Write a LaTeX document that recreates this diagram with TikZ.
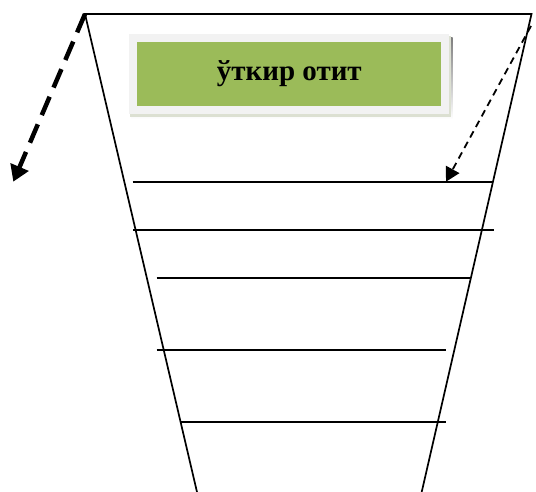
\documentclass[tikz,border=0pt]{standalone}
\usepackage{fontspec}
\setmainfont{Liberation Serif}
\usepackage{tikz}
\usetikzlibrary{positioning,calc,arrows.meta,backgrounds}
\usepackage{xcolor}
\definecolor{olive}{HTML}{9BBB59}
\definecolor{frame}{HTML}{F2F2F2}
\definecolor{shade}{HTML}{A9B294}
\definecolor{shadelight}{HTML}{DCE0D2}

\begin{document}
\begin{tikzpicture}[x=1pt,y=-1pt]
    \useasboundingbox (0,0) rectangle (536,492);
    \tikzset{
      rung/.style={line width=1.8pt},
      side/.style={line width=1.7pt},
      title/.style={fill=olive, draw=frame, line width=8pt,
        minimum width=312pt, minimum height=72pt,
        font=\fontsize{29}{34}\selectfont\bfseries}
    }

    % Corners of the funnel
    \coordinate (tl) at (85, 14);
    \coordinate (tr) at (531.5, 14);
    \coordinate (bl) at (197, 492);
    \coordinate (br) at (421.7, 492);

    % Funnel
    \draw[side] (bl) -- (tl) -- (tr) -- (br);

    % Rungs
    \draw[rung] (132.7, 182.3) -- (492.7, 182.3);
    \draw[rung] (133, 230) -- (494.3, 230);
    \draw[rung] (156.7, 277.7) -- (470, 277.7);
    \draw[rung] (156.7, 350) -- (446, 350);
    \draw[rung] (181, 421.7) -- (446, 421.7);

    % Title with its shadow
    \node[title] (otit) at (289.3, 74) {ўткир отит};
    \begin{scope}[on background layer]
      \fill[shade] ($(otit.north west)+(2.4,4)$)
        rectangle ($(otit.south east)+(3.4,5.3)$);
      \fill[shadelight] ($(otit.north west)+(1,2)$)
        rectangle ($(otit.south east)+(1.6,2.6)$);
    \end{scope}

    % Arrows
    \coordinate (out) at (13.3, 181.7);
    \draw[line width=4.5pt, dash pattern=on 20pt off 10pt,
      -{Triangle[length=16pt,width=19pt]}] (tl) -- (out);

    \coordinate (in) at (531, 26);
    \coordinate (rung1) at (446, 181.7);
    \draw[line width=1.8pt, dash pattern=on 7pt off 5pt,
      -{Triangle[length=14pt,width=15pt]}] (in) -- (rung1);
\end{tikzpicture}
\end{document}
